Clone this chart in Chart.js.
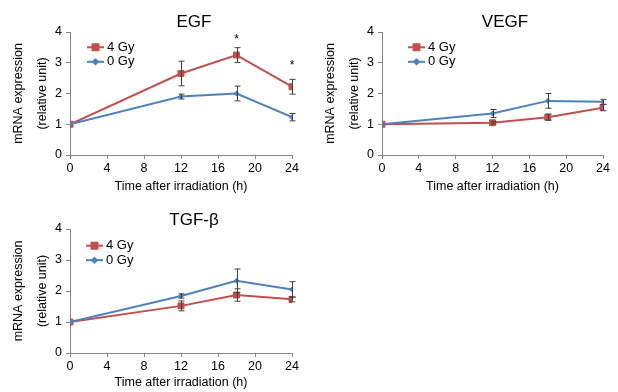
<!DOCTYPE html>
<html>
<head>
<meta charset="utf-8">
<script src="https://cdn.jsdelivr.net/npm/chart.js@4.4.1/dist/chart.umd.min.js"></script>
<style>
  html, body { margin: 0; padding: 0; background: #fff; overflow: hidden; }
  body { width: 618px; height: 392px; position: relative; }
  .panel { position: absolute; }
</style>
</head>
<body>
<div class="panel" style="left:0;top:0;width:305px;height:196px"><canvas id="egf-chart"></canvas></div>
<div class="panel" style="left:312px;top:0;width:306px;height:196px"><canvas id="vegf-chart"></canvas></div>
<div class="panel" style="left:0;top:197px;width:305px;height:195px"><canvas id="tgf-chart"></canvas></div>
<script>
// values
const hours = [0, 12, 18, 24];
const xTicks = [0, 4, 8, 12, 16, 20, 24];
const yTicks = [0, 1, 2, 3, 4];
const seriesNames = ['4 Gy', '0 Gy'];

const egf4Gy = [1.0, 2.65, 3.25, 2.22];
const egf4GyErr = [0, 0.40, 0.24, 0.24];
const egf0Gy = [1.0, 1.90, 2.00, 1.23];
const egf0GyErr = [0, 0.08, 0.24, 0.12];
const egfStarHours = [18, 24];
const egfStarLevels = [3.86, 3.03];

const vegf4Gy = [1.0, 1.05, 1.23, 1.54];
const vegf4GyErr = [0, 0.04, 0.10, 0.10];
const vegf0Gy = [1.0, 1.35, 1.76, 1.73];
const vegf0GyErr = [0, 0.13, 0.24, 0.08];

const tgf4Gy = [1.0, 1.52, 1.87, 1.73];
const tgf4GyErr = [0, 0.16, 0.20, 0.08];
const tgf0Gy = [1.0, 1.84, 2.33, 2.05];
const tgf0GyErr = [0, 0.07, 0.38, 0.25];

const RED = '#c0504d';
const BLUE = '#4f81bd';
const AXIS = '#868686';
const FONT = "'Liberation Sans', Arial, sans-serif";

Chart.defaults.font.family = FONT;
Chart.defaults.color = '#000';

// error bars, stars, panel title and the line+marker legend
const panelDecor = {
    id: 'panelDecor',
    afterDatasetsDraw(chart, args, opts) {
        const ctx = chart.ctx;
        const xs = chart.scales.x, ys = chart.scales.y;
        ctx.save();
        ctx.strokeStyle = '#404040';
        ctx.lineWidth = 1;
        chart.data.datasets.forEach(ds => {
            ds.errors.forEach((e, i) => {
                if (!e) return;
                const px = Math.round(xs.getPixelForValue(hours[i])) + 0.5;
                const top = ys.getPixelForValue(ds.values[i] + e);
                const bot = ys.getPixelForValue(ds.values[i] - e);
                ctx.beginPath();
                ctx.moveTo(px, top); ctx.lineTo(px, bot);
                ctx.moveTo(px - 3, top); ctx.lineTo(px + 3, top);
                ctx.moveTo(px - 3, bot); ctx.lineTo(px + 3, bot);
                ctx.stroke();
            });
        });
        ctx.restore();
    },
    afterDraw(chart, args, opts) {
        const ctx = chart.ctx;
        const area = chart.chartArea;
        const xs = chart.scales.x, ys = chart.scales.y;
        ctx.save();

        // title
        ctx.fillStyle = '#000';
        ctx.font = '17px ' + FONT;
        ctx.textAlign = 'center';
        ctx.textBaseline = 'middle';
        ctx.fillText(opts.title, area.left + opts.titleDx, opts.titleY);

        // stars
        (opts.starHours || []).forEach((h, i) => {
            ctx.font = '12px ' + FONT;
            ctx.textBaseline = 'alphabetic';
            ctx.fillText('*', xs.getPixelForValue(h), ys.getPixelForValue(opts.starLevels[i]) + 7);
        });

        // legend
        ctx.font = '13px ' + FONT;
        ctx.textAlign = 'left';
        ctx.textBaseline = 'middle';
        chart.data.datasets.forEach((ds, i) => {
            const lx = area.left + opts.legendDx;
            const ly = area.top + opts.legendDy + i * 14.5;
            ctx.strokeStyle = ds.borderColor;
            ctx.lineWidth = 2;
            ctx.beginPath();
            ctx.moveTo(lx, ly); ctx.lineTo(lx + 17, ly);
            ctx.stroke();
            Chart.helpers.drawPoint(ctx, {
                pointStyle: ds.pointStyle, radius: ds.pointRadius, borderWidth: 1
            }, lx + 8.5, ly);
            ctx.fillStyle = ds.borderColor;
            ctx.fill();
            ctx.fillStyle = '#000';
            ctx.fillText(ds.label, lx + 20, ly);
        });
        ctx.restore();
    }
};

function makeDataset(label, values, errors, color, style, radius, order) {
    return {
        label: label,
        data: hours.map((h, i) => ({ x: h, y: values[i] })),
        values: values,
        errors: errors,
        borderColor: color,
        backgroundColor: color,
        borderWidth: 2,
        pointStyle: style,
        pointRadius: radius,
        pointHoverRadius: radius,
        pointBorderWidth: 1,
        tension: 0,
        order: order
    };
}

function makeChart(id, title, v4, e4, v0, e0, decor) {
    const xHeight = decor.xHeight;
    return new Chart(document.getElementById(id), {
        type: 'line',
        data: {
            datasets: [
                makeDataset(seriesNames[0], v4, e4, RED, 'rect', 4.2, 1),
                makeDataset(seriesNames[1], v0, e0, BLUE, 'rectRot', 2.4, 0)
            ]
        },
        options: {
            responsive: true,
            maintainAspectRatio: false,
            animation: false,
            events: [],
            layout: { padding: { top: 32, left: 0, right: decor.right, bottom: 0 } },
            plugins: {
                legend: { display: false },
                tooltip: { enabled: false },
                panelDecor: Object.assign({ title: title }, decor)
            },
            scales: {
                x: {
                    type: 'linear',
                    min: 0,
                    max: 24,
                    afterBuildTicks: s => { s.ticks = xTicks.map(v => ({ value: v })); },
                    afterFit: s => { s.height = xHeight; },
                    grid: { drawOnChartArea: false, color: AXIS, tickLength: 4 },
                    border: { color: AXIS, width: 1 },
                    ticks: { font: { size: 12.5 }, padding: 2, maxRotation: 0 },
                    title: {
                        display: true,
                        text: 'Time after irradiation (h)',
                        font: { size: 12.5, lineHeight: 1.2 },
                        padding: { top: 0, bottom: 1.5 }
                    }
                },
                y: {
                    min: 0,
                    max: 4,
                    afterBuildTicks: s => { s.ticks = yTicks.map(v => ({ value: v })); },
                    afterFit: s => { s.width = 70; },
                    grid: { drawOnChartArea: false, color: AXIS, tickLength: 4 },
                    border: { color: AXIS, width: 1 },
                    ticks: { font: { size: 12.5 }, padding: 4 },
                    title: {
                        display: true,
                        text: ['mRNA expression', '(relative unit)'],
                        font: { size: 12.5, lineHeight: 24 / 12.5 },
                        padding: { top: 7, bottom: 0 }
                    }
                }
            }
        },
        plugins: [panelDecor]
    });
}

makeChart('egf-chart', 'EGF', egf4Gy, egf4GyErr, egf0Gy, egf0GyErr, {
    right: 13, xHeight: 41, titleDx: 124, titleY: 22, legendDx: 17, legendDy: 15.3,
    starHours: egfStarHours, starLevels: egfStarLevels
});
makeChart('vegf-chart', 'VEGF', vegf4Gy, vegf4GyErr, vegf0Gy, vegf0GyErr, {
    right: 15, xHeight: 41, titleDx: 123, titleY: 22, legendDx: 26, legendDy: 15.3
});
makeChart('tgf-chart', 'TGF-\u03b2', tgf4Gy, tgf4GyErr, tgf0Gy, tgf0GyErr, {
    right: 13, xHeight: 39, titleDx: 124, titleY: 23, legendDx: 16, legendDy: 16.7
});
</script>
</body>
</html>
